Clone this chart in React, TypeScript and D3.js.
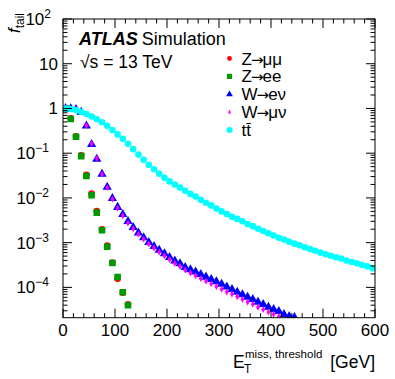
import React from "react";
import * as d3 from "d3";

// Bin centres of the E_T^miss threshold (GeV)
const eThreshold = [5, 15, 25, 35, 45, 55, 65, 75, 85, 95, 105, 115, 125, 135, 145, 155, 165, 175, 185, 195,
  205, 215, 225, 235, 245, 255, 265, 275, 285, 295, 305, 315, 325, 335, 345, 355, 365, 375, 385, 395,
  405, 415, 425, 435, 445, 455, 465, 475, 485, 495, 505, 515, 525, 535, 545, 555, 565, 575, 585, 595];

const zmumu = [1.0, 0.6, 0.24, 0.09, 0.033, 0.0125, 0.0051, 0.002, 0.00086, 0.00036, 0.000155, 7.6e-5, 4.2e-5];
const zee = [1.0, 0.58, 0.233, 0.086, 0.031, 0.0115, 0.0047, 0.0019, 0.00081, 0.00035, 0.00017, 7.8e-5, 4.0e-5];
const wenu = [1.0, 0.99, 0.955, 0.83, 0.41, 0.158, 0.074, 0.034, 0.0174, 0.0098, 0.0062, 0.0043, 0.003, 0.0022,
  0.00166, 0.00129, 0.00102, 0.00083, 0.00068, 0.00057, 0.00047, 0.00039, 0.00034, 0.00028, 0.00025, 0.000222,
  0.000195, 0.000171, 0.000152, 0.000135, 0.000118, 0.000103, 9.1e-5, 7.9e-5, 6.9e-5, 6.1e-5, 5.4e-5, 4.7e-5,
  4.2e-5, 3.65e-5, 3.25e-5, 2.9e-5, 2.5e-5, 2.25e-5, 2.15e-5];
const wmunu = [1.0, 0.99, 0.955, 0.83, 0.417, 0.162, 0.076, 0.034, 0.017, 0.0095, 0.0059, 0.004, 0.00275, 0.00204,
  0.00155, 0.0012, 0.00093, 0.00076, 0.00062, 0.00051, 0.00042, 0.000347, 0.000295, 0.000245, 0.00021, 0.000182,
  0.000158, 0.000138, 0.00012, 0.000105, 9.1e-5, 7.9e-5, 7.1e-5, 6.2e-5, 5.4e-5, 4.7e-5, 4.2e-5, 3.6e-5, 3.2e-5,
  2.8e-5, 2.5e-5, 2.24e-5];
const ttbar = [1.0, 0.97, 0.92, 0.84, 0.75, 0.66, 0.575, 0.49, 0.41, 0.33, 0.263, 0.209, 0.162, 0.123, 0.093,
  0.071, 0.055, 0.0437, 0.0347, 0.0282, 0.0234, 0.02, 0.017, 0.0145, 0.0123, 0.0107, 0.0091, 0.0078, 0.0068,
  0.0058, 0.005, 0.00437, 0.0038, 0.0034, 0.003, 0.0026, 0.00234, 0.00204, 0.00182, 0.00162, 0.00145, 0.00129,
  0.00117, 0.00105, 0.00095, 0.00087, 0.00079, 0.00072, 0.00066, 0.0006, 0.00055, 0.00051, 0.00047, 0.00044,
  0.0004, 0.00037, 0.000347, 0.000316, 0.000295, 0.000269];

const xMajorTicks = [0, 100, 200, 300, 400, 500, 600];
const yMajorExps = [-4, -3, -2, -1, 0, 1, 2];

const legendHeads = ["Z", "Z", "W", "W", "tt\u0304"];
const legendTails = ["\u03bc\u03bc", "ee", "e\u03bd", "\u03bc\u03bd", ""];

const FONT = "'Liberation Sans', Arial, Helvetica, sans-serif";

const W = 395, H = 379;
const L = 63, R = 375, T = 19, B = 317.7;

const x = d3.scaleLinear().domain([0, 600]).range([L, R]);
const y = d3.scaleLog().domain([2.1e-5, 100]).range([B, T]);

type Shape = "circle" | "square" | "triangle" | "diamond";
const series: { key: string; values: number[]; color: string; shape: Shape }[] = [
  { key: "zmumu", values: zmumu, color: "#ff0000", shape: "circle" },
  { key: "zee", values: zee, color: "#009900", shape: "square" },
  { key: "wenu", values: wenu, color: "#0000ff", shape: "triangle" },
  { key: "wmunu", values: wmunu, color: "#ff00ff", shape: "diamond" },
  { key: "ttbar", values: ttbar, color: "#00ffff", shape: "circle" },
];

function markerPath(shape: Shape, s: number): string {
  if (shape === "circle") return d3.symbol(d3.symbolCircle, Math.PI * s * s)()!;
  if (shape === "square") return d3.symbol(d3.symbolSquare, s * s * 4)()!;
  if (shape === "triangle") return d3.symbol(d3.symbolTriangle, s * s * 3.2)()!;
  const w = s * 0.6, h = s * 1.05;
  return `M0,${-h}L${w},0L0,${h}L${-w},0Z`;
}

const plotSizes: Record<string, number> = { zmumu: 3.3, zee: 3.3, wenu: 3.4, wmunu: 3.3, ttbar: 3.3 };
const legendSizes: Record<string, number> = { zmumu: 2.4, zee: 2.6, wenu: 2.5, wmunu: 2.3, ttbar: 3.0 };

export default function App() {
  const yMinor: number[] = [];
  for (let e = -5; e <= 1; e++) {
    for (let k = 2; k <= 9; k++) {
      const v = k * Math.pow(10, e);
      if (v >= 2.1e-5 && v <= 100) yMinor.push(v);
    }
  }
  const xMinor = d3.range(0, 601, 20).filter((v) => v % 100 !== 0);
  const majorLen = 9, minorLen = 4.5;

  return (
    <svg width={W} height={H} style={{ position: "absolute", left: 0, top: 0, background: "#fff" }}
      fontFamily={FONT}>
      <defs>
        <clipPath id="plot">
          <rect x={L} y={T} width={R - L} height={B - T} />
        </clipPath>
      </defs>
      <rect x={0} y={0} width={W} height={H} fill="#fff" />

      <g clipPath="url(#plot)">
        {series.map((s) => (
          <g key={s.key} fill={s.color}>
            {s.values.map((v, i) => (
              <path key={i} d={markerPath(s.shape, plotSizes[s.key])}
                transform={`translate(${x(eThreshold[i])},${y(v)})`} />
            ))}
          </g>
        ))}
      </g>

      <rect x={L} y={T} width={R - L} height={B - T} fill="none" stroke="#000" strokeWidth={1} />

      <g stroke="#000" strokeWidth={1}>
        {xMajorTicks.map((t) => (
          <g key={"xm" + t}>
            <line x1={x(t)} x2={x(t)} y1={B} y2={B - majorLen} />
            <line x1={x(t)} x2={x(t)} y1={T} y2={T + majorLen} />
          </g>
        ))}
        {xMinor.map((t) => (
          <g key={"xn" + t}>
            <line x1={x(t)} x2={x(t)} y1={B} y2={B - minorLen} />
            <line x1={x(t)} x2={x(t)} y1={T} y2={T + minorLen} />
          </g>
        ))}
        {yMajorExps.map((e) => (
          <g key={"ym" + e}>
            <line x1={L} x2={L + majorLen} y1={y(Math.pow(10, e))} y2={y(Math.pow(10, e))} />
            <line x1={R} x2={R - majorLen} y1={y(Math.pow(10, e))} y2={y(Math.pow(10, e))} />
          </g>
        ))}
        {yMinor.map((v, i) => (
          <g key={"yn" + i}>
            <line x1={L} x2={L + minorLen} y1={y(v)} y2={y(v)} />
            <line x1={R} x2={R - minorLen} y1={y(v)} y2={y(v)} />
          </g>
        ))}
      </g>

      <g fontSize={17} textAnchor="middle" fill="#000">
        {xMajorTicks.map((t) => (
          <text key={"xl" + t} x={x(t)} y={B + 18}>{t}</text>
        ))}
      </g>

      <g fontSize={17} fill="#000">
        {yMajorExps.map((e) => {
          const yy = y(Math.pow(10, e)) + 6;
          if (e === 0) return <text key={"yl" + e} x={58} y={yy} textAnchor="end">1</text>;
          if (e === 1) return <text key={"yl" + e} x={58} y={yy} textAnchor="end">10</text>;
          const sup = e < 0 ? "\u2212" + Math.abs(e) : String(e);
          return (
            <text key={"yl" + e} x={e < 0 ? 49 : 51} y={yy} textAnchor="end">
              10
              <tspan fontSize={12} dy={-7}>{sup}</tspan>
            </text>
          );
        })}
      </g>

      <text transform="translate(20,13) rotate(-90)" textAnchor="end" fontSize={17} fill="#000">
        <tspan fontStyle="italic">f</tspan>
        <tspan fontSize={12} dy={4}>tail</tspan>
      </text>
      <text x={233} y={368} fontSize={17.5} fill="#000">E</text>
      <text x={244} y={373} fontSize={12} fill="#000">T</text>
      <text x={245} y={358} fontSize={11.5} fill="#000">miss, threshold</text>
      <text x={375} y={368} fontSize={17.5} fill="#000" textAnchor="end">[GeV]</text>

      <text x={79} y={45} fontSize={18} fill="#000">
        <tspan fontWeight="bold" fontStyle="italic">ATLAS</tspan>
        <tspan dx={4}>Simulation</tspan>
      </text>
      <text x={80} y={68} fontSize={17.5} fill="#000">
        {"\u221as = 13 TeV"}
      </text>

      <g>
        {series.map((s, i) => {
          const ly = 58.5 + i * 17.9;
          return (
            <g key={"lg" + s.key}>
              <path d={markerPath(s.shape, legendSizes[s.key])} fill={s.color}
                transform={`translate(${229.5},${ly})`} />
              <text x={241.5} y={ly + 6} fontSize={17} fill="#000">
                {legendHeads[i]}
                {legendTails[i] !== "" && (
                  <>
                    <tspan dx={-1} fontFamily="'DejaVu Sans'" fontSize={15}>{"\u2192"}</tspan>
                    <tspan dx={-1}>{legendTails[i]}</tspan>
                  </>
                )}
              </text>
            </g>
          );
        })}
      </g>
    </svg>
  );
}
